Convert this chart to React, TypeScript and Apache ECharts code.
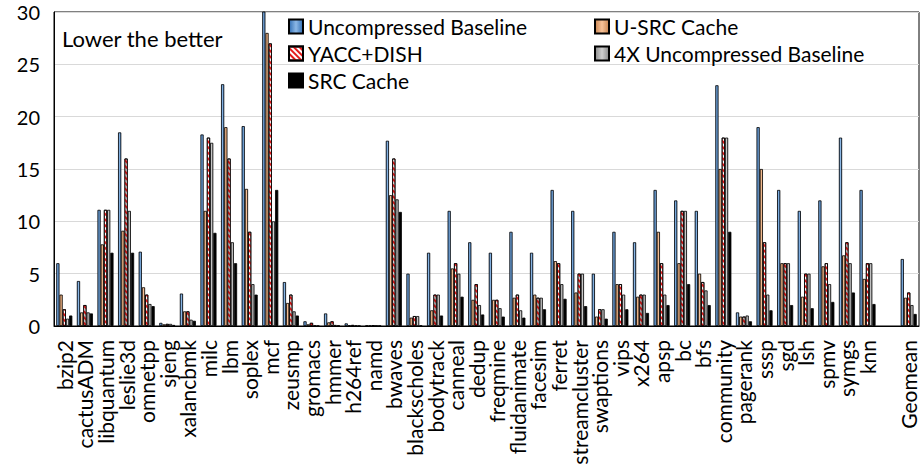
import React, { useEffect, useRef } from "react";
import * as echarts from "echarts";

const categories = ["bzip2","cactusADM","libquantum","leslie3d","omnetpp","sjeng","xalancbmk","milc","lbm","soplex","mcf","zeusmp","gromacs","hmmer","h264ref","namd","bwaves","blackscholes","bodytrack","canneal","dedup","freqmine","fluidanimate","facesim","ferret","streamcluster","swaptions","vips","x264","apsp","bc","bfs","community","pagerank","sssp","sgd","lsh","spmv","symgs","knn","","Geomean"];

const uncompressed = [6.0,4.3,11.1,18.5,7.1,0.3,3.1,18.3,23.1,19.1,30.5,4.2,0.45,1.2,0.25,0.05,17.7,5.0,7.0,11.0,8.0,7.0,9.0,7.0,13.0,11.0,5.0,9.0,8.0,13.0,12.0,11.0,23.0,1.3,19.0,13.0,11.0,12.0,18.0,13.0,null,6.4];
const usrc = [3.0,1.3,7.8,9.1,3.7,0.16,1.4,11.0,19.0,13.1,28.0,2.2,0.16,0.35,0.08,0.04,12.5,0.8,1.5,5.5,2.5,2.5,2.7,3.0,6.2,3.2,0.9,4.0,2.8,9.0,6.0,5.0,15.0,0.9,15.0,6.0,2.8,5.7,6.75,4.5,null,2.7];
const yacc = [1.6,2.0,11.1,16.0,3.0,0.2,1.4,18.0,16.0,9.0,27.0,3.0,0.3,0.45,0.1,0.05,16.0,0.95,3.0,6.0,4.0,2.5,3.0,2.7,6.0,5.0,1.6,4.0,3.0,6.0,11.0,4.2,18.0,0.9,8.0,6.0,5.0,6.0,8.0,6.0,null,3.2];
const x4 = [0.7,1.3,11.1,11.0,2.1,0.2,0.6,17.5,8.0,4.0,10.0,1.4,0.06,0.1,0.05,0.04,12.1,0.95,3.0,5.0,2.0,1.7,1.5,2.7,4.0,5.0,1.6,3.0,3.0,3.0,11.0,3.4,18.0,1.0,3.0,6.0,5.0,4.0,6.0,6.0,null,2.0];
const src = [1.0,1.2,7.0,7.0,1.9,0.1,0.5,8.9,6.0,3.0,13.0,1.0,0.03,0.05,0.03,0.03,10.9,0.05,1.0,2.8,1.1,0.9,0.8,1.6,2.6,1.9,0.7,1.6,1.25,2.0,4.0,2.0,9.0,0.45,1.5,2.0,1.7,2.3,3.2,2.1,null,1.15];

const yTicks = [0, 5, 10, 15, 20, 25, 30];
const FONT = "Lato";

function grad(a: string, b: string) {
  return new echarts.graphic.LinearGradient(0, 0, 1, 0, [
    { offset: 0, color: a },
    { offset: 0.5, color: b },
    { offset: 1, color: a },
  ]);
}

export default function App() {
  const ref = useRef<HTMLDivElement>(null);
  useEffect(() => {
    if (!ref.current) return;
    const chart = echarts.init(ref.current, null, { renderer: "svg" });
    const base = { type: "bar", barGap: "0%", barCategoryGap: "22%" };
    const border = { borderColor: "#000", borderWidth: 0.8 };
    const legendText = { fontSize: 21, fontFamily: FONT, color: "#000" };
    chart.setOption({
      animation: false,
      backgroundColor: "#fff",
      grid: { left: 54, right: 3, top: 12, bottom: 150, show: true, borderColor: "#000", borderWidth: 1 },
      legend: [
        {
          left: 283, top: 11, orient: "vertical", itemGap: 6, itemWidth: 14, itemHeight: 14, icon: "rect",
          data: ["Uncompressed Baseline", "YACC+DISH", "SRC Cache"],
          textStyle: legendText,
        },
        {
          left: 589, top: 11, orient: "vertical", itemGap: 6, itemWidth: 14, itemHeight: 14, icon: "rect",
          data: ["U-SRC Cache", "4X Uncompressed Baseline"],
          textStyle: legendText,
        },
      ],
      graphic: [
        { type: "text", left: 62, top: 27, style: { text: "Lower the better", fontSize: 22, fontFamily: FONT, fill: "#000" } },
      ],
      xAxis: {
        type: "category",
        data: categories,
        axisTick: { show: false },
        axisLine: { lineStyle: { color: "#000", width: 1 } },
        axisLabel: { rotate: 90, interval: 0, fontSize: 21, lineHeight: 18, fontFamily: FONT, color: "#000", margin: 14 },
      },
      yAxis: {
        type: "value",
        min: yTicks[0],
        max: yTicks[yTicks.length - 1],
        interval: 5,
        axisLine: { show: true, lineStyle: { color: "#000", width: 1 } },
        axisTick: { show: false },
        axisLabel: { fontSize: 20, fontFamily: FONT, color: "#000", margin: 14 },
        splitLine: { lineStyle: { color: "#d9d9d9", width: 1 } },
      },
      series: [
        { ...base, name: "Uncompressed Baseline", data: uncompressed, itemStyle: { color: grad("#2f6db3", "#8cb8e6"), ...border } },
        { ...base, name: "U-SRC Cache", data: usrc, itemStyle: { color: grad("#c98550", "#f8c39a"), ...border } },
        {
          ...base, name: "YACC+DISH", data: yacc,
          itemStyle: {
            color: "#ffffff", ...border,
            decal: { symbol: "rect", symbolSize: 1, color: "#e41a1a", dashArrayX: [1, 0], dashArrayY: [2, 2], rotation: Math.PI / 4 },
          },
        },
        { ...base, name: "4X Uncompressed Baseline", data: x4, itemStyle: { color: grad("#8a8a8a", "#d0d0d0"), ...border } },
        { ...base, name: "SRC Cache", data: src, itemStyle: { color: "#000000", ...border } },
      ],
    });
    return () => chart.dispose();
  }, []);
  return <div ref={ref} style={{ position: "fixed", left: 0, top: 0, width: 922, height: 476, background: "#fff" }} />;
}
